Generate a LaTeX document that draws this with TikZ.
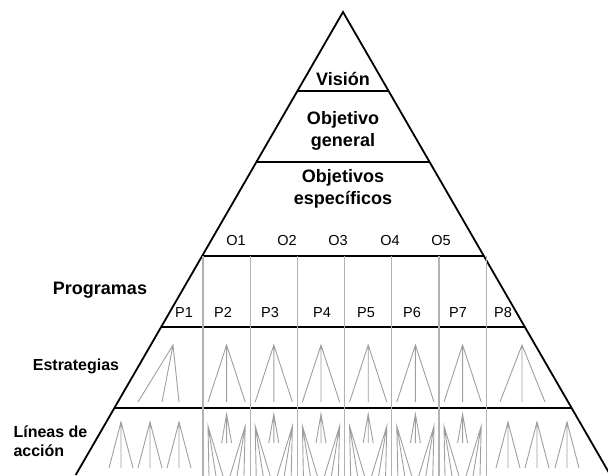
\documentclass[tikz,border=0pt]{standalone}
\usepackage{fontspec}
\setmainfont{Liberation Sans}
\usetikzlibrary{calc}
\tikzset{
  side/.style={line width=1.8pt},
  band/.style={line width=1.6pt},
  divider/.style={line width=1.1pt, gray!60},
  fan/.style={line width=0.9pt, gray!75},
  level/.style={font=\bfseries\fontsize{18}{22}\selectfont, align=center},
  rowlabel/.style={font=\bfseries\fontsize{16}{18.5}\selectfont, align=left},
  tag/.style={font=\fontsize{14.5}{16}\selectfont, anchor=base},
}
% apex x, apex y, foot y, three feet
\newcommand{\fan}[6]{\draw[fan] (#4,#3) -- (#1,#2) -- (#6,#3) (#1,#2) -- (#5,#3);}
\begin{document}
\begin{tikzpicture}[x=1pt, y=-1pt]
  \useasboundingbox (0,0) rectangle (608,475);
  \clip (0,0) rectangle (608,475);
  \coordinate (top) at (343,12);
  \coordinate (bl) at (75.7,475);
  \coordinate (br) at (610.3,475);
  % pyramid
  \draw[side, line join=miter] (bl) -- (top) -- (br);
  \foreach \t in {0.1706,0.324,0.527,0.680,0.855}
    \draw[band] ($(top)!\t!(bl)$) -- ($(top)!\t!(br)$);
  \foreach \d in {203,250.2,297.4,344.6,391.8,439,486.2}
    \draw[divider] (\d,256) -- (\d,476);

  \node[level] (vision) at (343,79) {Visión};
  \node[level] (objgen) at (343,131) {Objetivo\\general};
  \node[level] (objesp) at (343,189) {Objetivos\\específicos};
  \node[tag] (O1) at (236,245) {O1};
  \node[tag] (O2) at (287,245) {O2};
  \node[tag] (O3) at (338,245) {O3};
  \node[tag] (O4) at (390,245) {O4};
  \node[tag] (O5) at (441,245) {O5};

  \node[rowlabel, font=\bfseries\fontsize{18}{20}\selectfont] (programas) at (100,290) {Programas};
  \node[rowlabel] (estrategias) at (76,366) {Estrategias};
  \node[rowlabel, anchor=west] (lineas) at (10,441) {Líneas de\\acción};

  \node[tag] (P1) at (184,317) {P1};
  \node[tag] (P2) at (223,317) {P2};
  \node[tag] (P3) at (270,317) {P3};
  \node[tag] (P4) at (322,317) {P4};
  \node[tag] (P5) at (366,317) {P5};
  \node[tag] (P6) at (412,317) {P6};
  \node[tag] (P7) at (458,317) {P7};
  \node[tag] (P8) at (503,317) {P8};

  % strategies and lines of action
  \fan{173}{345}{402}{138}{162}{179}
  \fan{522}{345}{402}{500}{522}{545}
  \foreach \a in {121,150,179,508,537,567}{
    \fan{\a}{422}{468}{\a-12}{\a}{\a+12}
  }
  \foreach \l in {203,250.2,297.4,344.6,391.8,439}{
    \begin{scope}[shift={(\l,0)}]
      \fan{23.6}{345}{402}{5}{23.6}{42.2}
      \fan{5}{426}{476}{6}{13}{20}
      \fan{23.6}{414}{443}{18.6}{23.6}{28.6}
      \fan{42.2}{426}{476}{41}{34}{27}
    \end{scope}
  }
\end{tikzpicture}
\end{document}
